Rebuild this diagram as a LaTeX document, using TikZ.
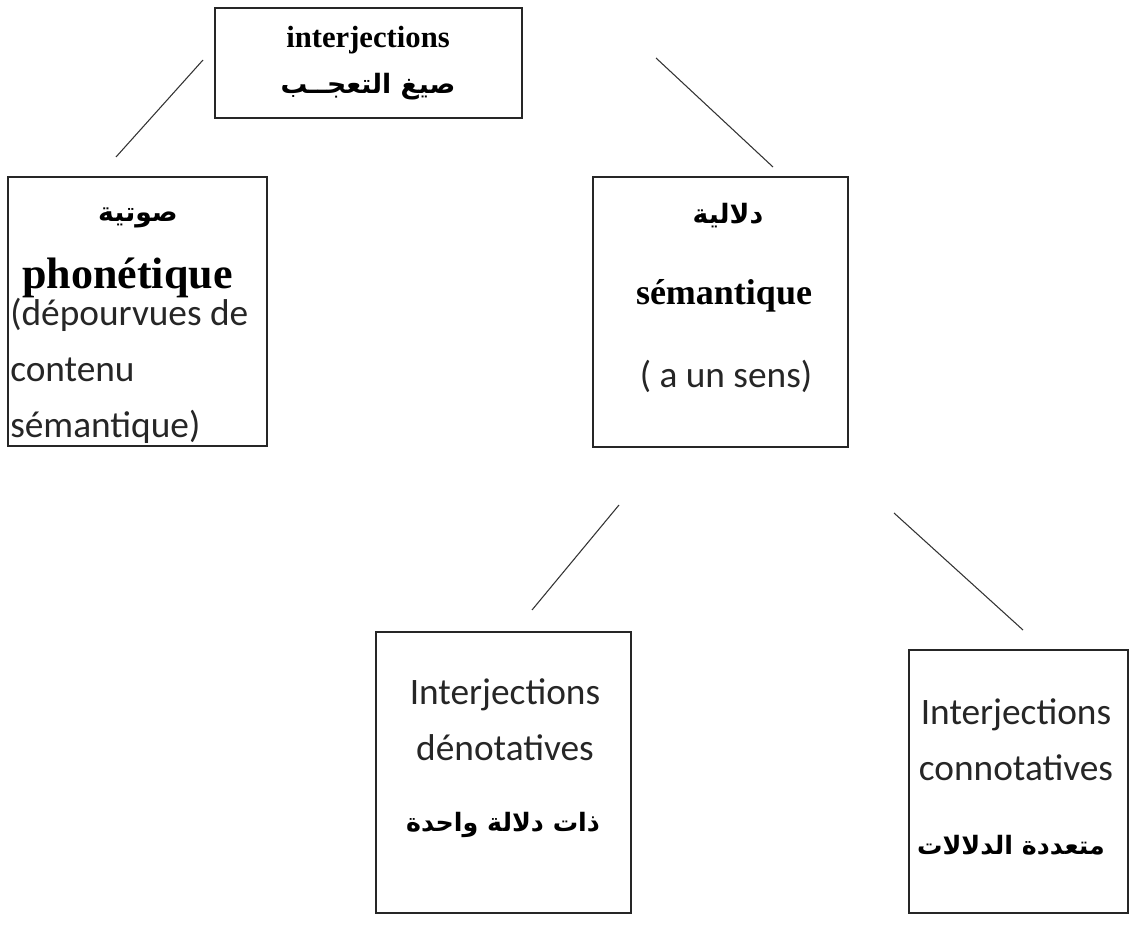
\documentclass[tikz,border=0pt]{standalone}
\usepackage{fontspec}
\usetikzlibrary{fit}
\setmainfont{Liberation Serif}
\newfontfamily\calibri{Carlito}
\newfontfamily\arabicfont[Script=Arabic]{DejaVu Sans}
\TeXXeTstate=1

\begin{document}
\begin{tikzpicture}[x=0.75pt,y=-0.75pt,
  box/.style={draw=black!85,line width=1.1pt,inner sep=0pt},
  link/.style={draw=black!80,line width=0.8pt},
  titre/.style={font=\bfseries\fontsize{23}{26}\selectfont},
  gros/.style={font=\bfseries\fontsize{33}{38}\selectfont},
  sans/.style={font=\calibri\fontsize{28}{42}\selectfont,text=black!85},
  arab/.style={font=\arabicfont\bfseries\fontsize{20}{23}\selectfont}]
\useasboundingbox (0,0) rectangle (1134,944);
% boxes
\node[box,fit={(215,8) (522,118)}] (top) {};
\node[box,fit={(8,177) (267,446)}] (phon) {};
\node[box,fit={(593,177) (848,447)}] (sem) {};
\node[box,fit={(376,632) (631,913)}] (denot) {};
\node[box,fit={(909,650) (1128,913)}] (connot) {};
% texts
\node[titre] (t1) at (368,40) {interjections};
\node[arab] (t2) at (368,87) {\beginR صيغ التعجــب\endR};
\node[arab] (p1) at (138,218) {\beginR صوتية\endR};
\node[gros,anchor=base west,inner sep=0pt] (p2) at (22,289) {phonétique};
\node[sans,anchor=north west,align=left,inner sep=0pt] (p3) at (10,298) {(dépourvues de\\contenu\\sémantique)};
\node[arab] (s1) at (728,216) {\beginR دلالية\endR};
\node[gros,font=\bfseries\fontsize{27}{30}\selectfont] (s2) at (724,296) {sémantique};
\node[sans] (s3) at (726,376) {( a un sens)};
\node[sans,align=center] (d1) at (505,720) {Interjections\\dénotatives};
\node[arab,font=\arabicfont\bfseries\fontsize{19}{22}\selectfont] (d2) at (503,825) {\beginR ذات دلالة واحدة\endR};
\node[sans,align=center] (c1) at (1016,740) {Interjections\\connotatives};
\node[arab,font=\arabicfont\bfseries\fontsize{19}{22}\selectfont] (c2) at (1011,845) {\beginR متعددة الدلالات\endR};
% lines
\coordinate (a1) at (203,60);
\coordinate (a2) at (116,157);
\coordinate (b1) at (656,58);
\coordinate (b2) at (773,167);
\coordinate (c1a) at (619,505);
\coordinate (c1b) at (532,610);
\coordinate (d1a) at (894,513);
\coordinate (d1b) at (1023,630);
\draw[link] (a1) -- (a2);
\draw[link] (b1) -- (b2);
\draw[link] (c1a) -- (c1b);
\draw[link] (d1a) -- (d1b);
\end{tikzpicture}
\end{document}
